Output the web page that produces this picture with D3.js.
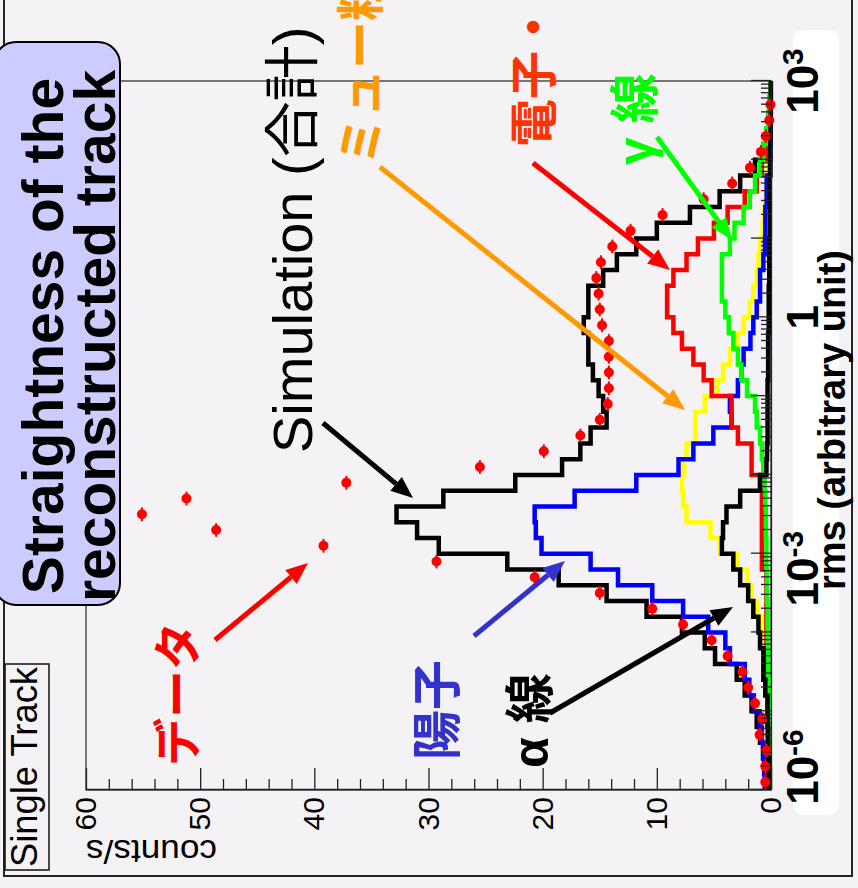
<!DOCTYPE html>
<html><head><meta charset="utf-8">
<script src="https://cdn.jsdelivr.net/npm/d3@7"></script>
<style>html,body{margin:0;padding:0;background:#f5f2f5;} svg{display:block;}</style>
</head><body>
<svg id="c" width="858" height="888"></svg>
<script>
// ---- bins: 45 log bins, 0.2 decade each, from 1e-6 to 1e3 ----
const binLowExp = -6, binStep = 0.2;
// ---- values (counts/s), bin 0 = lowest rms ----
const dataCounts = [0.5,0.5,0.38,1.0,0.76,1.4,2.0,2.5,3.8,5.2,7.7,10.4,15.0,20.7,29.3,39.2,48.6,55.1,51.2,37.2,25.5,19.9,16.7,15.0,14.3,14.2,14.2,14.2,14.2,14.8,15.0,15.1,15.3,14.9,13.9,12.3,9.5,5.9,3.4,1.84,0.88,0.46,0.15,0.05,null];
const simTotal = [0.45,0.5,0.7,0.96,1.25,1.7,2.3,3.0,4.9,5.8,7.8,10.9,14.4,18.6,23.1,29.1,31.0,32.8,28.7,22.4,18.3,16.7,15.8,14.4,14.7,15.1,15.6,16.0,16.0,16.4,16.0,16.0,14.7,13.5,11.8,10.0,7.1,4.5,2.7,1.4,0.67,0.35,0.2,0.1,0.05];
const muon = [0.1,0.15,0.2,0.25,0.3,0.35,0.4,0.45,0.53,0.53,0.8,1.25,1.7,2.1,3.0,4.5,5.3,7.4,7.7,7.8,7.6,7.4,6.65,6.65,5.8,4.75,4.2,3.6,3.0,2.4,1.85,1.55,1.25,1.1,0.96,0.73,0.6,0.5,0.4,0.3,0.2,0.12,0.08,0.05,0.02];
const proton = [0.55,0.6,0.65,0.8,1.0,1.5,1.9,2.3,3.6,4.0,5.5,7.7,10.4,13.4,15.8,20.1,20.6,20.7,17.2,11.8,8.1,6.8,5.05,3.45,3.6,2.9,2.6,2.4,1.8,1.55,1.25,0.96,0.96,0.67,0.53,0.5,0.5,0.38,0.38,0.09,0.05,0.05,0.05,0.03,0.02];
const electron = [0.3,0.3,0.3,0.3,0.3,0.3,0.3,0.4,0.4,0.4,0.4,0.4,0.4,0.4,0.8,0.8,0.8,0.8,0.8,0.96,1.7,1.7,2.9,3.45,3.45,5.2,5.9,6.8,7.8,8.55,9.1,9.1,8.55,7.4,6.4,5.0,3.8,2.3,1.25,0.8,0.4,0.2,0.1,0.05,0.02];
const gammaRay = [0.1,0.1,0.12,0.15,0.15,0.2,0.2,0.25,0.25,0.3,0.3,0.3,0.35,0.35,0.4,0.4,0.45,0.45,0.5,0.55,0.67,0.8,0.96,1.25,1.4,2.1,2.6,2.9,3.3,3.7,4.0,4.3,4.3,4.3,3.6,3.2,2.4,1.85,1.4,0.96,0.67,0.4,0.2,0.1,0.05];
const alphaRay = [0.2,0.2,0.25,0.25,0.3,0.3,0.5,0.67,0.67,0.96,1.1,1.55,2.0,2.7,3.3,4.3,4.2,3.9,2.7,0.96,0.4,0.35,0.3,0.3,0.3,0.3,0.25,0.25,0.25,0.2,0.2,0.2,0.15,0.15,0.15,0.1,0.1,0.1,0.1,0.05,0.05,0.03,0.02,0.01,0.01];
// ---- axis ticks / labels ----
const xLabelExps = [-6, -3, 0, 3];
const yTickValues = [0, 10, 20, 30, 40, 50, 60];
const yMinorValues = [2,4,6,8,12,14,16,18,22,24,26,28,32,34,36,38,42,44,46,48,52,54,56,58];
const titleLines = ["Straightness of the", "reconstructed track"];
const xTitle = "rms (arbitrary unit)";
const yTitle = "counts/s";
const padLabel = "Single Track";

const LAT = "'Liberation Sans', Arial, 'Noto Sans CJK JP', sans-serif";
const CJK = "'Liberation Sans', 'Noto Sans CJK JP', sans-serif";

const svg = d3.select('#c');
svg.append('rect').attr('width', 858).attr('height', 888).attr('fill', '#f5f2f5');
// whole chart drawn in landscape coordinates, rotated 90° counter-clockwise
const g = svg.append('g').attr('transform', 'translate(0,888) rotate(-90)');

const x = d3.scaleLog().domain([1e-6, 1e3]).range([98, 807]);
const y = d3.scaleLinear().domain([0, 60]).range([771, 86]);

// outer border
g.append('rect').attr('x', 12).attr('y', 4).attr('width', 880).attr('height', 848)
  .attr('fill', 'none').attr('stroke', '#222').attr('stroke-width', 2);

// frame
g.append('rect').attr('x', 98).attr('y', 86).attr('width', 709).attr('height', 685)
  .attr('fill', 'none').attr('stroke', '#333').attr('stroke-width', 1.3);

function binLo(i){ return Math.pow(10, binLowExp + i * binStep); }
function binHi(i){ return Math.pow(10, binLowExp + (i + 1) * binStep); }
function stepPts(vals){
  const pts = [];
  vals.forEach((v, i) => { pts.push([x(binLo(i)), y(v)], [x(binHi(i)), y(v)]); });
  return pts;
}
const line = d3.line();
const series = [
  {vals: simTotal, color: '#000000'},
  {vals: muon, color: '#ffff00'},
  {vals: proton, color: '#0000ff'},
  {vals: electron, color: '#ff0000'},
  {vals: gammaRay, color: '#00ff00'},
  {vals: alphaRay, color: '#000000'}
];
series.forEach(s => {
  g.append('path').attr('d', line(stepPts(s.vals))).attr('fill', 'none')
    .attr('stroke', s.color).attr('stroke-width', 4.5).attr('stroke-linejoin', 'miter');
});

// data points
const dg = g.append('g');
dataCounts.forEach((v, i) => {
  if (v === null) return;
  const cx = x(Math.pow(10, binLowExp + (i + 0.5) * binStep));
  dg.append('line').attr('x1', x(binLo(i)) + 1).attr('x2', x(binHi(i)) - 1)
    .attr('y1', y(v)).attr('y2', y(v)).attr('stroke', '#ff0000').attr('stroke-width', 2);
  dg.append('circle').attr('cx', cx).attr('cy', y(v)).attr('r', 5).attr('fill', '#ff0000');
});

// y axis (counts)
const yAxis = d3.axisLeft(y).tickValues(yTickValues).tickSizeInner(-22).tickSizeOuter(0)
  .tickPadding(7).tickFormat(d3.format('d'));
const ya = g.append('g').attr('transform', 'translate(98,0)').call(yAxis);
ya.selectAll('text').attr('font-size', 30).attr('font-family', LAT).attr('fill', '#000');
ya.selectAll('line,path').attr('stroke', '#222').attr('stroke-width', 1.3);
const yMinor = d3.axisLeft(y).tickValues(yMinorValues).tickSizeInner(-11).tickSizeOuter(0).tickFormat('');
g.append('g').attr('transform', 'translate(98,0)').call(yMinor)
  .call(s => s.select('.domain').remove())
  .selectAll('line').attr('stroke', '#222').attr('stroke-width', 1.3);

// x axis (rms, log)
const decades = d3.range(-6, 4).map(e => Math.pow(10, e));
const minors = [];
d3.range(-6, 3).forEach(e => { for (let k = 2; k <= 9; k++) minors.push(k * Math.pow(10, e)); });
const xa = g.append('g').attr('transform', 'translate(0,771)')
  .call(d3.axisBottom(x).tickValues(decades).tickSizeInner(-20).tickSizeOuter(0).tickFormat(''));
xa.selectAll('line,path').attr('stroke', '#222').attr('stroke-width', 1.3);
g.append('g').attr('transform', 'translate(0,771)')
  .call(d3.axisBottom(x).tickValues(minors).tickSizeInner(-10).tickSizeOuter(0).tickFormat(''))
  .call(s => s.select('.domain').remove())
  .selectAll('line').attr('stroke', '#222').attr('stroke-width', 1.3);

// white box behind x labels
g.append('rect').attr('x', 73).attr('y', 793).attr('width', 785).attr('height', 46)
  .attr('rx', 10).attr('fill', '#ffffff');

const labelShift = {'-6': 23, '-3': -15, '0': 0, '3': 0};
xLabelExps.forEach(e => {
  const t = g.append('text').attr('x', x(Math.pow(10, e)) + labelShift[String(e)]).attr('y', 818)
    .attr('text-anchor', 'middle').attr('font-family', LAT).attr('font-weight', 'bold')
    .attr('font-size', 44).attr('fill', '#000');
  if (e === 0) t.text('1');
  else {
    t.append('tspan').text('10');
    t.append('tspan').attr('font-size', 30).attr('dy', -15).text(String(e));
  }
});
g.append('text').attr('x', 468).attr('y', 845).attr('text-anchor', 'middle')
  .attr('font-family', LAT).attr('font-weight', 'bold').attr('font-size', 38).text(xTitle);

// y title
g.append('text').attr('transform', 'translate(48,86) rotate(-90)').attr('text-anchor', 'end')
  .attr('font-family', LAT).attr('font-size', 33).attr('textLength', 131)
  .attr('lengthAdjust', 'spacingAndGlyphs').text(yTitle);

// pad label
g.append('rect').attr('x', 18).attr('y', 5).attr('width', 206).attr('height', 44)
  .attr('fill', 'none').attr('stroke', '#111').attr('stroke-width', 1.5);
g.append('text').attr('x', 21).attr('y', 37).attr('font-family', LAT).attr('font-size', 36)
  .attr('textLength', 200).attr('lengthAdjust', 'spacingAndGlyphs').text(padLabel);

// title box
g.append('rect').attr('x', 283).attr('y', -6).attr('width', 563).attr('height', 126)
  .attr('rx', 22).attr('fill', '#ccccff').attr('stroke', '#000').attr('stroke-width', 2);
titleLines.forEach((s, k) => {
  g.append('text').attr('x', 552).attr('y', 63 + k * 52).attr('text-anchor', 'middle')
    .attr('font-family', LAT).attr('font-weight', 'bold').attr('font-size', 57).text(s);
});

// annotations
function arrow(x1, y1, x2, y2, color){
  const a = Math.atan2(y2 - y1, x2 - x1), L = 22, W = 9;
  const bx = x2 - L * Math.cos(a), by = y2 - L * Math.sin(a);
  g.append('line').attr('x1', x1).attr('y1', y1).attr('x2', bx).attr('y2', by)
    .attr('stroke', color).attr('stroke-width', 5);
  g.append('polygon').attr('points', [[x2, y2], [bx + W * Math.sin(a), by - W * Math.cos(a)],
    [bx - W * Math.sin(a), by + W * Math.cos(a)]].map(p => p.join(',')).join(' ')).attr('fill', color);
}
function label(txt, tx, ty, size, color, weight){
  g.append('text').attr('x', tx).attr('y', ty).attr('font-family', CJK).attr('font-size', size)
    .attr('font-weight', weight).attr('fill', color).text(txt);
}
label('データ', 122, 195, 48, '#ff0000', 'bold');
arrow(248, 215, 325, 308, '#ff0000');
label('Simulation (合計)', 435, 312, 56, '#000000', 'normal');
arrow(465, 323, 390, 413, '#000000');
label('ミュー粒子', 723, 378, 48, '#ff9900', 'bold');
arrow(721, 380, 478, 685, '#ff9900');
label('電子・陽電子', 741, 551, 48, '#ff3300', 'bold');
arrow(725, 533, 618, 670, '#ff0000');
label('γ 線', 723, 653, 50, '#00ff00', 'bold');
arrow(751, 657, 648, 732, '#00ff00');
label('陽子', 128, 455, 50, '#3333cc', 'bold');
arrow(252, 474, 327, 565, '#3333cc');
label('α 線', 120, 548, 50, '#000000', 'bold');
arrow(175, 550, 281, 733, '#000000');
</script>
</body></html>
